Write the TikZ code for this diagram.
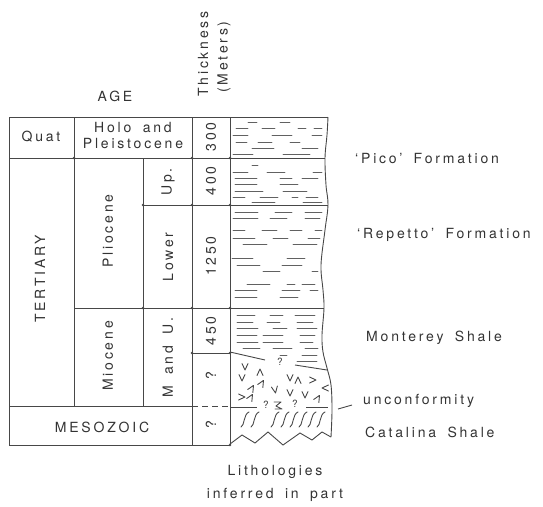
\documentclass[tikz,border=0pt]{standalone}
\usepackage{fontspec}
\setmainfont{TeX Gyre Heros}[LetterSpace=20, WordSpace=1.7]
\begin{document}
\begin{tikzpicture}[x=1pt,y=-1pt,
  lbl/.style={font=\fontsize{14}{16}\selectfont, text=black!80, inner sep=0pt},
  vlbl/.style={lbl, rotate=90},
  qm/.style={font=\fontsize{10}{11}\selectfont, text=black!75, inner sep=0pt},
  grid/.style={line width=0.9pt, draw=black!72},
  shale/.style={line width=0.9pt, draw=black!62, line cap=round},
  chev/.style={line width=0.9pt, draw=black!72, line cap=round, line join=round},
  joint/.style={fill=black!72, draw=none},
]
\useasboundingbox (0,0) rectangle (543,506);

% ---- age / thickness table ----
\draw[grid] (9,117) -- (230,117);
\draw[grid] (9,117) -- (9,445) -- (230,445);
\draw[grid] (74,117) -- (74,406);
\draw[grid] (143,158) -- (143,406);
\draw[grid] (192,117) -- (192,445);
\draw[grid] (230,117) -- (230,445);
\draw[grid] (9,158) -- (230,158);
\draw[grid] (143,205) -- (230,205);
\draw[grid] (74,308) -- (230,308);
\draw[grid] (192,353) -- (230,353);
\draw[grid] (9,406) -- (192,406);
\draw[grid, dashed, dash pattern=on 6pt off 4pt] (192,406) -- (230,406);
\foreach \p in {(74,158),(192,158),(230,158),(143,205),(192,205),(230,205),
                (143,308),(192,308),(230,308),(192,353),(230,353),(230,445)}
  \fill[joint] \p circle (1.3);

% ---- lithology column outline ----
\draw[grid] (230,117) -- (328,117);
\draw[grid] plot[smooth, tension=0.6] coordinates {(328,117) (327,135) (325,158)
  (326,185) (328,205) (325,230) (321,265) (323,290) (324,308) (322,335)
  (323,352) (327,368) (331,385) (332,410) (331,437)};
\draw[grid] (230,444) -- (242,435) -- (255,443) -- (268,432) -- (283,445)
  -- (300,433) -- (312,440) -- (322,432) -- (331,437);
\draw[grid] (230,158) -- (325,158);
\draw[grid] (230,205) -- (328,205);
\draw[grid] (230,308) -- (324,308);

% unconformity at base of Monterey Shale
\draw[grid] (230,352) -- (265,360);
\draw[grid] (295,365) -- (327,370);
\node[qm] (uq0) at (280,362) {?};
% unconformity above Catalina Shale
\draw[grid] (230,407) -- (257,407);
\draw[grid] (306,407) -- (328,407);
\node[qm] (uq1) at (266,405) {?};
\draw[chev] (274,402) -- (281,402) -- (276,406) -- (282,409) -- (275,409);
\node[qm] (uq2) at (295,404) {?};

% shale dashes: y / x1 / x2
\foreach \y/\a/\b in {
  % Pico
  122/248/257, 122/280/290,
  128/236/248, 128/262/275, 128/298/306, 128/314/322,
  135/233/248, 135/272/292, 135/312/322,
  142/236/247, 142/258/272, 142/290/300,
  148/252/274, 148/302/318,
  154/233/253, 154/283/310,
  % upper Pliocene
  165/252/258,
  172/233/248, 172/267/285, 172/313/322,
  178/235/257, 178/280/292, 178/302/318,
  184/235/257, 184/280/298,
  191/235/263, 191/283/307,
  197/233/245, 197/260/278, 197/292/298, 197/306/318,
  202/252/275, 202/303/322,
  % lower Pliocene
  212/235/258, 212/275/292, 212/305/322,
  218/233/258, 218/270/287, 218/305/320,
  230/233/245, 230/262/277, 230/290/302, 230/315/322,
  238/233/255, 238/273/288, 238/308/320,
  244/243/267, 244/293/317,
  258/232/253, 258/287/305,
  265/237/260, 265/282/302,
  271/263/280, 271/312/318,
  284/247/270, 284/287/295, 284/302/315,
  290/235/257, 290/282/300, 290/310/318,
  297/235/257, 297/280/298,
  % Monterey Shale
  315/237/255, 315/270/283, 315/295/315,
  322/237/253, 322/267/280, 322/297/313,
  328/237/258, 328/273/287, 328/297/317,
  335/237/257, 335/263/283, 335/300/315,
  342/237/258, 342/263/283, 342/300/313,
  348/243/260, 348/273/292, 348/305/318,
  355/280/287, 355/302/317,
  361/297/317}
  \draw[shale] (\a,\y) -- (\b,\y);

% volcanic chevrons: x / y / rotation
\foreach \x/\y/\r in {
  245/367/0, 260/372/180, 242/378/0, 290/378/0, 298/380/180,
  313/380/90, 325/388/-90, 262/383/150, 252/388/150, 275/390/10,
  290/393/0, 305/395/0, 318/398/150, 242/397/90, 251/397/150}
  \draw[chev, shift={(\x,\y)}, rotate=\r] (-3,-3.5) -- (0,3) -- (3,-3.5);

% Catalina Shale marks
\foreach \x in {245,255,275,285,294,303,312,321}
  \draw[chev] (\x-4,427) .. controls (\x-0.5,426) and (\x-1.5,414) .. (\x+4,412);

% ---- headings and labels ----
\node[lbl] (age) at (115,96) {AGE};
\node[vlbl, anchor=west] (thick) at (203,97) {Thickness};
\node[vlbl, anchor=west] (meters) at (224,93) {(Meters)};
\node[lbl] (quat) at (41,137) {Quat};
\node[lbl] (holo) at (133,127) {Holo and};
\node[lbl] (pleist) at (133,143) {Pleistocene};
\node[vlbl] (tert) at (40,279) {TERTIARY};
\node[vlbl] (plio) at (108,231) {Pliocene};
\node[vlbl] (mio) at (108,356) {Miocene};
\node[vlbl] (up) at (168,182) {Up.};
\node[vlbl] (lower) at (168,257) {Lower};
\node[vlbl] (mu) at (168,358) {M and U.};
\node[vlbl] (t300) at (211,137) {300};
\node[vlbl] (t400) at (211,181) {400};
\node[vlbl] (t1250) at (211,256) {1250};
\node[vlbl] (t450) at (211,331) {450};
\node[vlbl] (tq1) at (211,376) {?};
\node[vlbl] (tq2) at (211,425) {?};
\node[lbl] (meso) at (102,427) {MESOZOIC};

\node[lbl, anchor=west] (pico) at (355,158) {`Pico' Formation};
\node[lbl, anchor=west] (repetto) at (357,235) {`Repetto' Formation};
\node[lbl, anchor=west] (monterey) at (366,338) {Monterey Shale};
\node[lbl, anchor=west] (uncon) at (363,401) {unconformity};
\node[lbl, anchor=west] (catalina) at (365,432) {Catalina Shale};
\node[lbl] (lith1) at (275,472) {Lithologies};
\node[lbl] (lith2) at (275,495) {inferred in part};

\coordinate (lead1) at (338,409);
\coordinate (lead2) at (352,405);
\draw[grid] (lead1) -- (lead2);
\end{tikzpicture}
\end{document}
